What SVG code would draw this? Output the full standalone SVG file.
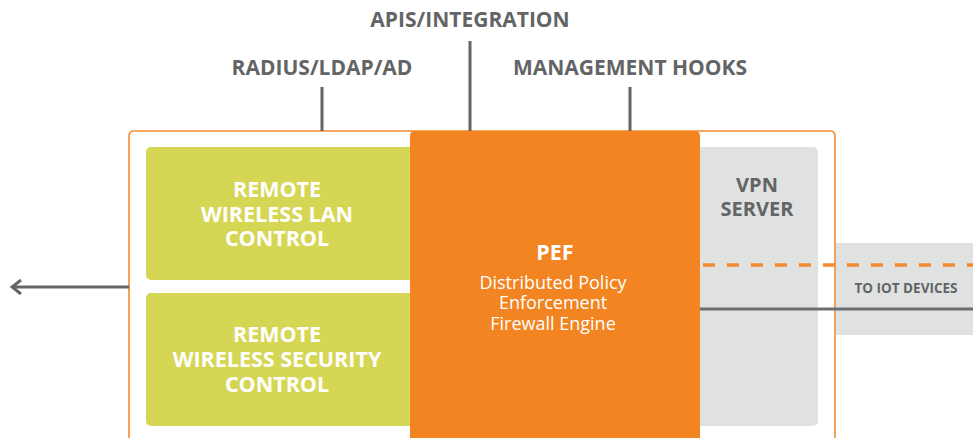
<svg xmlns="http://www.w3.org/2000/svg" width="973" height="438" viewBox="0 0 973 438">
  <defs>
    <style>
      .lbl { font-family: "Open Sans", "Liberation Sans", sans-serif; font-weight: 700; fill: #636466; text-anchor: middle; }
      .wt { font-family: "Open Sans", "Liberation Sans", sans-serif; font-weight: 700; fill: #ffffff; text-anchor: middle; font-size: 21.5px; }
      .sub { font-family: "Open Sans", "Liberation Sans", sans-serif; font-weight: 400; fill: #ffffff; text-anchor: middle; font-size: 18px; }
      .link { stroke: #636466; stroke-width: 3; fill: none; }
      .green { fill: #D6D655; }
      .grey { fill: #E0E1E1; }
    </style>
    <marker id="chev" viewBox="0 0 12 16" refX="10" refY="8" markerWidth="12" markerHeight="16" markerUnits="userSpaceOnUse" orient="auto">
      <path d="M1 1 L10 8 L1 15" fill="none" stroke="#636466" stroke-width="3"/>
    </marker>
  </defs>

  <!-- outer appliance frame -->
  <g id="frame">
    <path d="M129 440 L129 136 Q129 131 134 131 L830 131 Q835 131 835 136 L835 440" fill="#ffffff" stroke="#F58A2F" stroke-width="1.6"/>
  </g>

  <!-- side panel toward IoT devices -->
  <g id="iot">
    <rect class="grey" x="836" y="243" width="140" height="92"/>
    <text class="lbl" x="906" y="293" font-size="13.5">TO IOT DEVICES</text>
  </g>

  <g id="wlan">
    <rect class="green" x="146" y="147" width="280" height="133" rx="5"/>
    <text class="wt" x="277" y="197">REMOTE</text>
    <text class="wt" x="277" y="222">WIRELESS LAN</text>
    <text class="wt" x="277" y="246">CONTROL</text>
  </g>

  <g id="wsec">
    <rect class="green" x="146" y="293" width="280" height="133" rx="5"/>
    <text class="wt" x="277" y="342">REMOTE</text>
    <text class="wt" x="277" y="367">WIRELESS SECURITY</text>
    <text class="wt" x="277" y="392">CONTROL</text>
  </g>

  <g id="vpn">
    <rect class="grey" x="690" y="147" width="128" height="279" rx="5"/>
    <text class="lbl" x="757" y="192" font-size="20">VPN</text>
    <text class="lbl" x="757" y="216" font-size="20">SERVER</text>
  </g>

  <!-- connectors -->
  <g id="connectors">
    <line class="link" x1="322" y1="87" x2="322" y2="131"/>
    <line class="link" x1="470" y1="41" x2="470" y2="131"/>
    <line class="link" x1="630" y1="87" x2="630" y2="131"/>
    <line class="link" x1="129" y1="287" x2="12" y2="287" marker-end="url(#chev)"/>
    <line x1="700" y1="309" x2="973" y2="309" stroke="#6D6E71" stroke-width="3"/>
    <line x1="703" y1="265" x2="973" y2="265" stroke="#F58A2F" stroke-width="3.5" stroke-dasharray="12 12"/>
  </g>

  <g id="pef">
    <path d="M410 440 L410 136 Q410 131 415 131 L695 131 Q700 131 700 136 L700 440 Z" fill="#F28421"/>
    <text class="wt" x="555" y="260" font-size="21">PEF</text>
    <text class="sub" x="553" y="289">Distributed Policy</text>
    <text class="sub" x="553" y="309">Enforcement</text>
    <text class="sub" x="553" y="330">Firewall Engine</text>
  </g>

  <!-- top labels -->
  <g id="labels">
    <text class="lbl" x="470" y="27" font-size="21">APIS/INTEGRATION</text>
    <text class="lbl" x="322" y="75" font-size="21">RADIUS/LDAP/AD</text>
    <text class="lbl" x="630" y="75" font-size="21">MANAGEMENT HOOKS</text>
  </g>
</svg>
